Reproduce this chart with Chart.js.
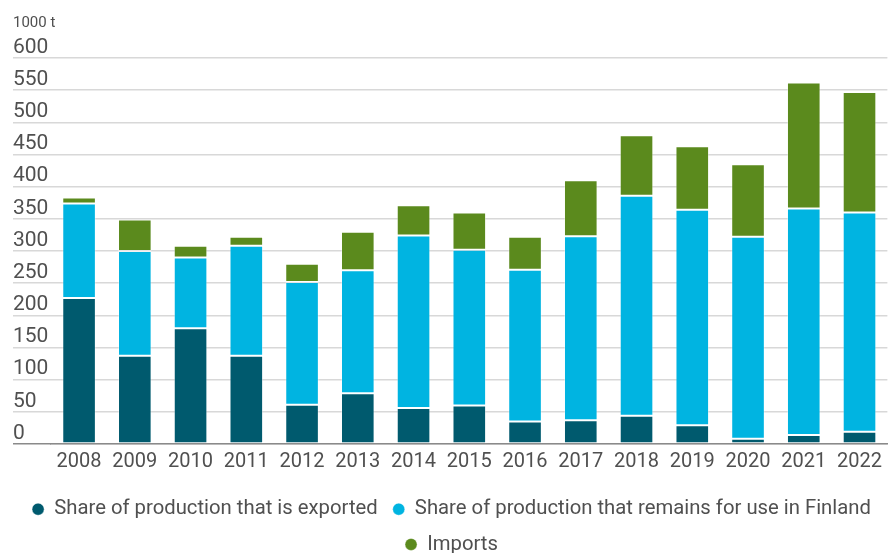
<!DOCTYPE html>
<html>
<head>
<meta charset="utf-8">
<script src="https://cdn.jsdelivr.net/npm/chart.js@4"></script>
<style>
  html, body { margin: 0; padding: 0; background: #fff; }
  #wrap { width: 888px; height: 553px; }
</style>
</head>
<body>
<div id="wrap"><canvas id="chart" width="888" height="553"></canvas></div>
<script>
// Years on the x axis
const years = ["2008", "2009", "2010", "2011", "2012", "2013", "2014", "2015",
  "2016", "2017", "2018", "2019", "2020", "2021", "2022"];

// Stacked amounts, 1000 t
const exported = [227, 137, 180, 137, 61, 79, 56, 60, 35, 37, 44, 29, 8, 14, 19];
const domestic = [147, 163, 110, 171, 191, 191, 268, 242, 236, 286, 342, 335, 314, 352, 341];
const imports = [9, 49, 18, 14, 28, 60, 47, 58, 51, 87, 94, 99, 113, 196, 187];

const seriesNames = [
  "Share of production that is exported",
  "Share of production that remains for use in Finland",
  "Imports",
];
const seriesColors = ["#005a6e", "#00b4e1", "#5b8a1d"];

const textColor = "#505050";
const gridColor = "#d8d8d8";
const axisColor = "#8a8a8a";

const makeSet = (i, values) => ({
  label: seriesNames[i],
  data: values,
  backgroundColor: seriesColors[i],
  borderColor: "rgba(255,255,255,0.35)",
  borderWidth: 1,
  borderSkipped: false,
  barPercentage: 0.603,
  categoryPercentage: 1,
});

new Chart(document.getElementById("chart"), {
  type: "bar",
  data: {
    labels: years,
    datasets: [
      makeSet(0, exported),
      makeSet(1, domestic),
      makeSet(2, imports),
    ],
  },
  options: {
    responsive: false,
    animation: false,
    layout: { padding: { left: 13, right: -2, top: 0, bottom: -11.6 } },
    plugins: {
      tooltip: { enabled: false },
      title: {
        display: true,
        text: "1000 t",
        align: "start",
        color: textColor,
        font: { family: "Roboto", size: 15, weight: "normal" },
        padding: { top: 14, bottom: 26 },
      },
      legend: {
        position: "bottom",
        labels: {
          usePointStyle: true,
          pointStyle: "circle",
          boxWidth: 12,
          boxHeight: 8.5,
          padding: 15,
          color: textColor,
          font: { family: "Roboto", size: 20.3 },
        },
      },
    },
    scales: {
      x: {
        stacked: true,
        grid: { display: false, drawTicks: false },
        border: { display: true, color: axisColor, width: 1.5 },
        ticks: {
          color: textColor,
          padding: 6,
          font: { family: "Roboto", size: 20 },
        },
        afterFit: (scale) => { scale.height = 40; },
      },
      y: {
        stacked: true,
        min: 0,
        max: 600,
        grid: {
          color: gridColor,
          lineWidth: 1.5,
          drawTicks: true,
          tickLength: 38.2,
          tickColor: (ctx) => (ctx.tick && ctx.tick.value === 0 ? axisColor : gridColor),
        },
        border: { display: false },
        ticks: {
          stepSize: 50,
          crossAlign: "far",
          labelOffset: -10.5,
          color: textColor,
          font: { family: "Roboto", size: 21 },
        },
        afterFit: (scale) => { scale.width = 38.2; },
      },
    },
  },
});
</script>
</body>
</html>
